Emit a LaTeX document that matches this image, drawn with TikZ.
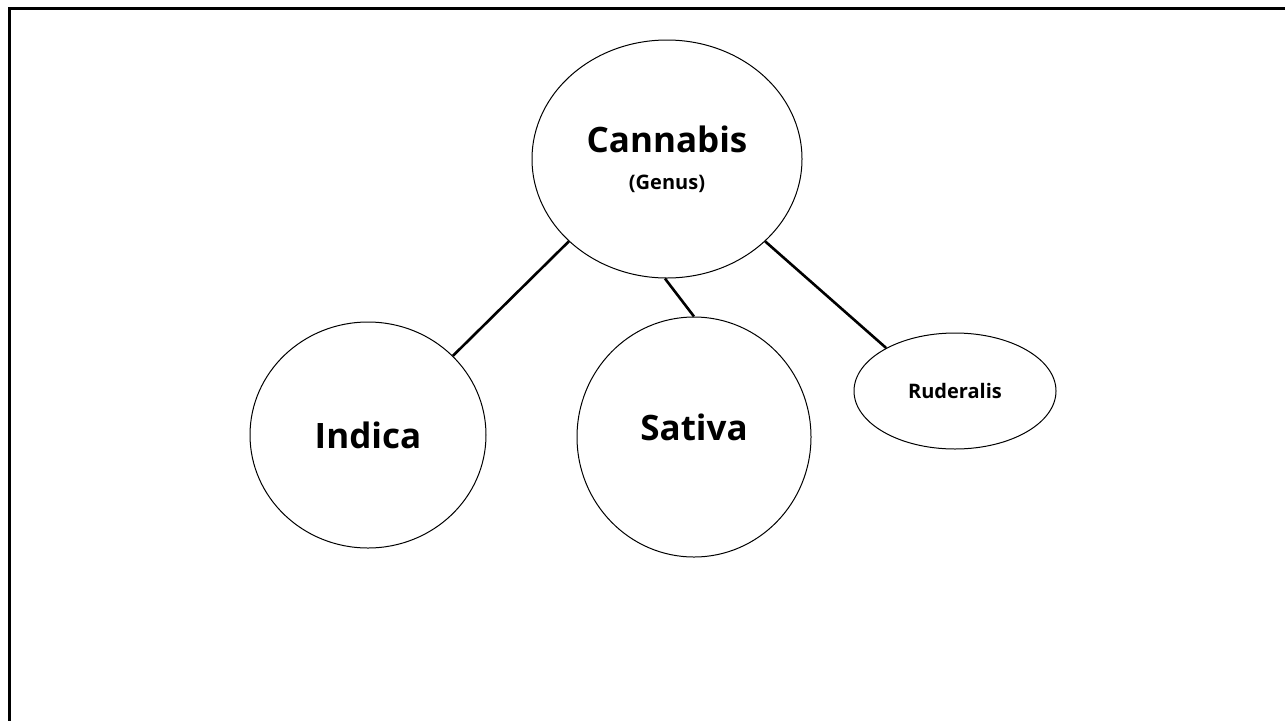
\documentclass[tikz,border=0pt]{standalone}
\usepackage{fontspec}
\setmainfont{Open Sans}
\usetikzlibrary{shapes.geometric}
\begin{document}
\begin{tikzpicture}[x=1pt,y=-1pt,
  oval/.style={draw=black,line width=1pt,ellipse,inner sep=0pt,fill=white},
  link/.style={draw=black,line width=2.6pt},
  big/.style={font=\fontsize{35}{40}\selectfont\bfseries},
  frameline/.style={draw=black,line width=2.8pt}]
\useasboundingbox[fill=white] (0,0) rectangle (1285,721);
\draw[frameline] (1285,8.5) -- (9.5,8.5) -- (9.5,721);
\node[oval,minimum width=270pt,minimum height=238pt,align=center] (cannabis) at (667,159)
  {{\fontsize{35}{38}\selectfont\bfseries Cannabis}\\[21pt]{\fontsize{20}{22}\selectfont\bfseries (Genus)}};
\node[oval,big,minimum width=236pt,minimum height=226pt] (indica) at (368,435) {Indica};
\node[oval,minimum width=234pt,minimum height=240pt,label={[big,yshift=10pt]center:Sativa}] (sativa) at (694,437) {};
\node[oval,minimum width=202pt,minimum height=116pt,font=\fontsize{20}{24}\selectfont\bfseries] (ruderalis) at (955,391) {Ruderalis};
\draw[link] (cannabis.220.6) -- (indica.43.2);
\draw[link] (cannabis.269) -- (sativa.90);
\draw[link] (cannabis.-40.5) -- (ruderalis.148.2);
\end{tikzpicture}
\end{document}
